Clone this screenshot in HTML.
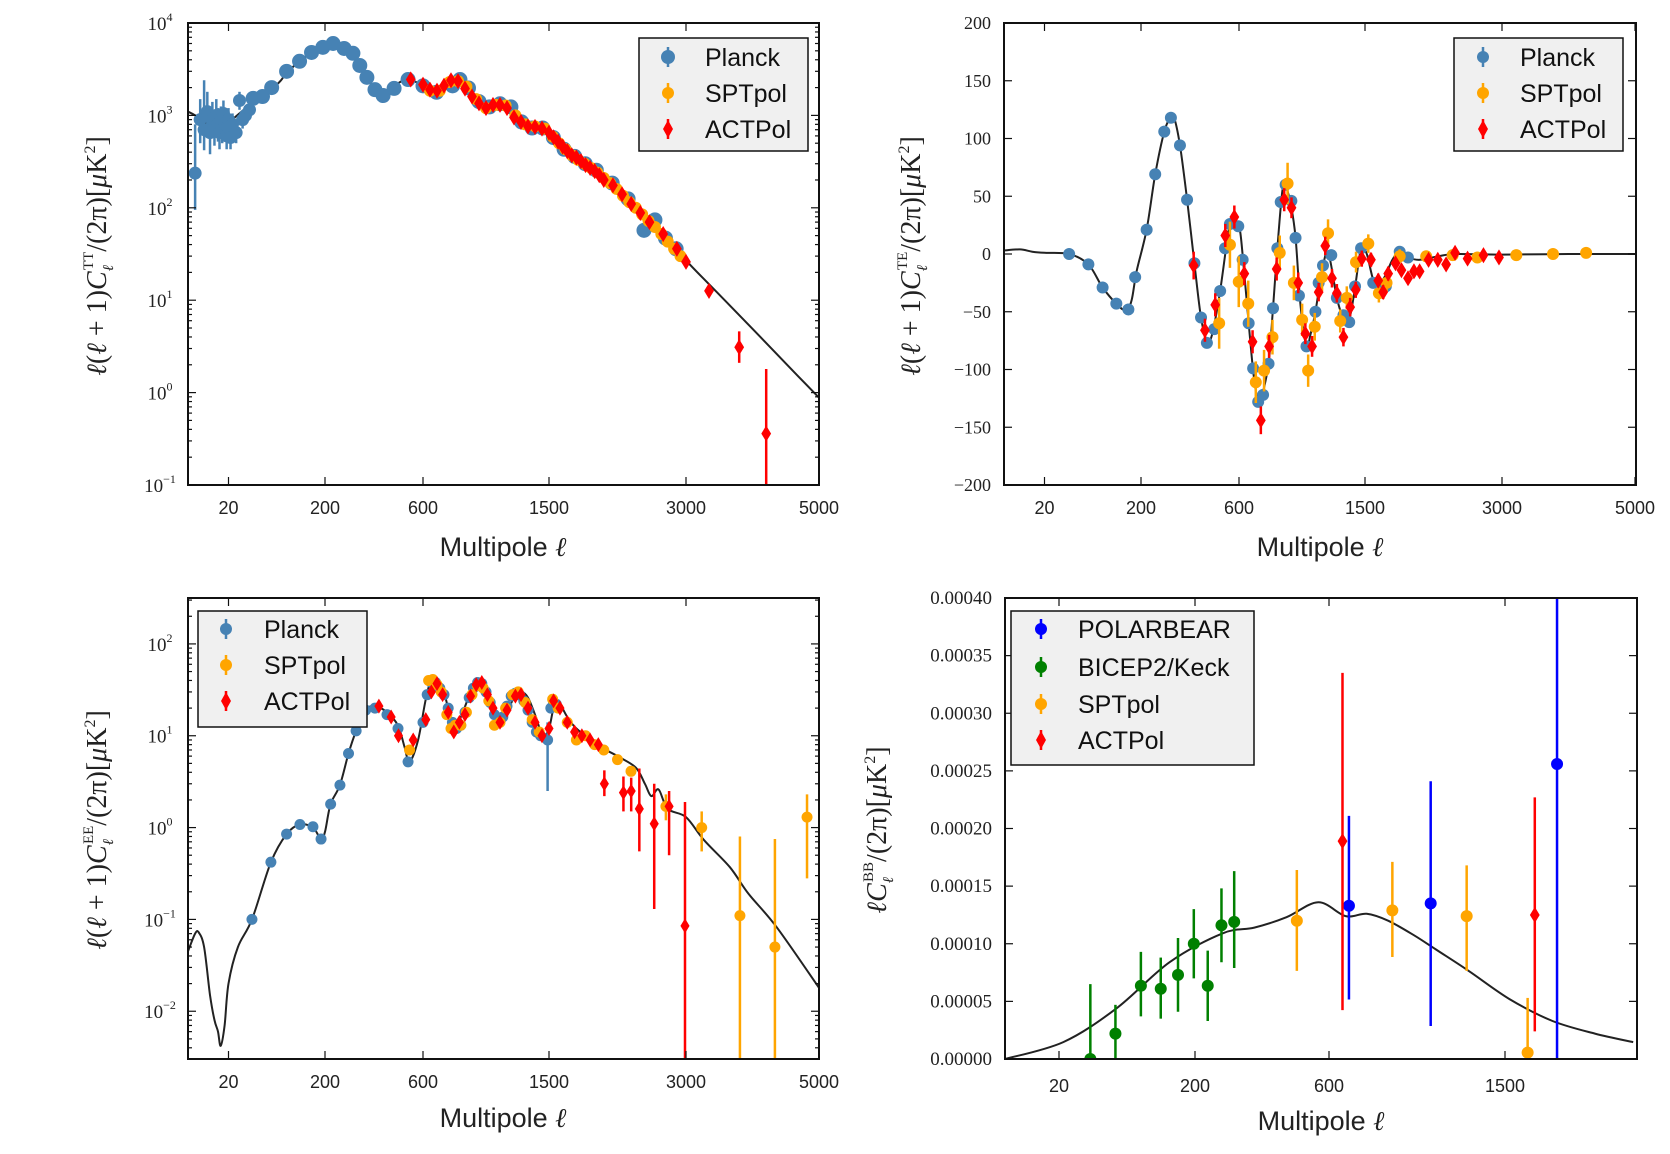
<!DOCTYPE html>
<html><head><meta charset="utf-8"><style>body{margin:0;background:#fff}svg{display:block}</style></head>
<body>
<svg id="fig" width="1670" height="1154" xmlns="http://www.w3.org/2000/svg">
<rect width="1670" height="1154" fill="#fff"/>
<defs>
<clipPath id="c-tt"><rect x="188" y="23" width="631" height="462"/></clipPath>
<clipPath id="c-te"><rect x="1004" y="23" width="632" height="462"/></clipPath>
<clipPath id="c-ee"><rect x="188" y="598" width="631" height="461"/></clipPath>
<clipPath id="c-bb"><rect x="1005" y="598" width="632" height="461"/></clipPath>
</defs>
<g id="layer"></g>
<g id="axes"></g>

<g font-family="Liberation Serif, DejaVu Serif, serif" font-size="28" fill="#222">
<text transform="translate(106,256) rotate(-90)" text-anchor="middle"><tspan font-style="italic">ℓ</tspan>(<tspan font-style="italic">ℓ</tspan> + 1)<tspan font-style="italic">C</tspan><tspan font-size="15" font-style="italic" dy="7">ℓ</tspan><tspan font-size="15" dx="-5" dy="-20">TT</tspan><tspan dy="13">/(2π)[</tspan><tspan font-style="italic">μ</tspan>K<tspan font-size="16" dy="-11">2</tspan><tspan dy="11">]</tspan></text>
<text transform="translate(920,256) rotate(-90)" text-anchor="middle"><tspan font-style="italic">ℓ</tspan>(<tspan font-style="italic">ℓ</tspan> + 1)<tspan font-style="italic">C</tspan><tspan font-size="15" font-style="italic" dy="7">ℓ</tspan><tspan font-size="15" dx="-5" dy="-20">TE</tspan><tspan dy="13">/(2π)[</tspan><tspan font-style="italic">μ</tspan>K<tspan font-size="16" dy="-11">2</tspan><tspan dy="11">]</tspan></text>
<text transform="translate(106,830) rotate(-90)" text-anchor="middle"><tspan font-style="italic">ℓ</tspan>(<tspan font-style="italic">ℓ</tspan> + 1)<tspan font-style="italic">C</tspan><tspan font-size="15" font-style="italic" dy="7">ℓ</tspan><tspan font-size="15" dx="-5" dy="-20">EE</tspan><tspan dy="13">/(2π)[</tspan><tspan font-style="italic">μ</tspan>K<tspan font-size="16" dy="-11">2</tspan><tspan dy="11">]</tspan></text>
<text transform="translate(886,830) rotate(-90)" text-anchor="middle"><tspan font-style="italic">ℓC</tspan><tspan font-size="15" font-style="italic" dy="7">ℓ</tspan><tspan font-size="15" dx="-5" dy="-20">BB</tspan><tspan dy="13">/(2π)[</tspan><tspan font-style="italic">μ</tspan>K<tspan font-size="16" dy="-11">2</tspan><tspan dy="11">]</tspan></text>
</g>
<g font-family="Liberation Sans, DejaVu Sans, sans-serif" font-size="27" fill="#222" text-anchor="middle">
<text x="503" y="556">Multipole <tspan font-family="Liberation Serif, serif" font-style="italic">ℓ</tspan></text>
<text x="1320" y="556">Multipole <tspan font-family="Liberation Serif, serif" font-style="italic">ℓ</tspan></text>
<text x="503" y="1127">Multipole <tspan font-family="Liberation Serif, serif" font-style="italic">ℓ</tspan></text>
<text x="1321" y="1130">Multipole <tspan font-family="Liberation Serif, serif" font-style="italic">ℓ</tspan></text>
</g>

<g font-family="Liberation Sans, DejaVu Sans, sans-serif" font-size="25" fill="#111">
<g>
<rect x="639" y="38" width="169" height="113" fill="#f0f0f0" stroke="#111" stroke-width="1.5"/>
<g><line x1="668" y1="47" x2="668" y2="67" stroke="#4682b4" stroke-width="2.5"/><circle cx="668" cy="57" r="7" fill="#4682b4"/><text x="705" y="66">Planck</text></g>
<g><line x1="668" y1="83" x2="668" y2="103" stroke="#ffa500" stroke-width="2.5"/><circle cx="668" cy="93" r="6" fill="#ffa500"/><text x="705" y="102">SPTpol</text></g>
<g><line x1="668" y1="119" x2="668" y2="139" stroke="#f00" stroke-width="2.5"/><polygon points="668,120 673,129 668,138 663,129" fill="#f00"/><text x="705" y="138">ACTPol</text></g>
</g>
<g>
<rect x="1454" y="38" width="169" height="113" fill="#f0f0f0" stroke="#111" stroke-width="1.5"/>
<g><line x1="1483" y1="47" x2="1483" y2="67" stroke="#4682b4" stroke-width="2.5"/><circle cx="1483" cy="57" r="6" fill="#4682b4"/><text x="1520" y="66">Planck</text></g>
<g><line x1="1483" y1="83" x2="1483" y2="103" stroke="#ffa500" stroke-width="2.5"/><circle cx="1483" cy="93" r="6" fill="#ffa500"/><text x="1520" y="102">SPTpol</text></g>
<g><line x1="1483" y1="119" x2="1483" y2="139" stroke="#f00" stroke-width="2.5"/><polygon points="1483,120 1488,129 1483,138 1478,129" fill="#f00"/><text x="1520" y="138">ACTPol</text></g>
</g>
<g>
<rect x="198" y="611" width="169" height="116" fill="#f0f0f0" stroke="#111" stroke-width="1.5"/>
<g><line x1="226" y1="619" x2="226" y2="639" stroke="#4682b4" stroke-width="2.5"/><circle cx="226" cy="629" r="6" fill="#4682b4"/><text x="264" y="638">Planck</text></g>
<g><line x1="226" y1="655" x2="226" y2="675" stroke="#ffa500" stroke-width="2.5"/><circle cx="226" cy="665" r="6" fill="#ffa500"/><text x="264" y="674">SPTpol</text></g>
<g><line x1="226" y1="691" x2="226" y2="711" stroke="#f00" stroke-width="2.5"/><polygon points="226,692 231,701 226,710 221,701" fill="#f00"/><text x="264" y="710">ACTPol</text></g>
</g>
<g>
<rect x="1011" y="611" width="243" height="154" fill="#f0f0f0" stroke="#111" stroke-width="1.5"/>
<g><line x1="1041" y1="619" x2="1041" y2="639" stroke="#00f" stroke-width="2.5"/><circle cx="1041" cy="629" r="6" fill="#00f"/><text x="1078" y="638">POLARBEAR</text></g>
<g><line x1="1041" y1="657" x2="1041" y2="677" stroke="#008000" stroke-width="2.5"/><circle cx="1041" cy="667" r="6" fill="#008000"/><text x="1078" y="676">BICEP2/Keck</text></g>
<g><line x1="1041" y1="694" x2="1041" y2="714" stroke="#ffa500" stroke-width="2.5"/><circle cx="1041" cy="704" r="6" fill="#ffa500"/><text x="1078" y="713">SPTpol</text></g>
<g><line x1="1041" y1="730" x2="1041" y2="750" stroke="#f00" stroke-width="2.5"/><polygon points="1041,731 1046,740 1041,749 1036,740" fill="#f00"/><text x="1078" y="749">ACTPol</text></g>
</g>
</g>
</svg>
<script>
// ---------------- TT data ----------------
const ttTheoryEll = [2,3,5,10,20,30,40,56,70,80,109,145,190,233,278,314,342,371,404,437,482,539,600,697,760,811,864,925,1000,1075,1150,1228,1304,1379,1455,1548,1665,1781,1897,2018,2192,2366,2540,2700,2892,3000,3346,3600,4000,4500,5000];
const ttTheoryVal = [1100,1000,850,800,850,1190,1400,1900,2400,2900,3850,4800,5500,5900,5300,4600,3500,2600,1900,1700,2100,2450,2100,1800,1950,2200,2400,2000,1450,1250,1320,1250,880,750,740,580,440,360,300,255,185,125,82,60,38,27,14.9,9.7,4.9,2.07,0.88];
const ttPlanckLowEll = [3,4,5,6,7,8,9,10,11,12,13,14,15,16,17,18,19,20,21,22,24,26,28,30,33];
const ttPlanckLowVal = [237,900,700,1100,650,900,750,1000,800,650,900,700,1050,850,700,600,750,900,577,800,650,1450,900,1000,1150];
const ttPlanckLowLo = [95,500,420,700,380,600,470,650,520,430,650,500,780,620,520,430,570,700,430,620,500,1150,720,820,950];
const ttPlanckLowHi = [800,1500,2400,1800,1050,1400,1150,1500,1200,950,1250,1000,1450,1150,950,850,1000,1200,780,1050,850,1800,1120,1220,1400];
const ttPlanckEll = [36,45,56,80,109,145,190,233,278,314,342,371,404,437,482,539,600,697,811,864,925,1000,1075,1150,1228,1304,1379,1455,1548,1665,1781,1897,2018,2192,2366,2540,2660,2775,2892];
const ttPlanckVal = [1530,1600,2000,3000,3850,4800,5450,6000,5300,4700,3470,2580,1900,1640,1960,2445,2090,1780,2090,2445,1980,1410,1235,1335,1235,850,730,730,575,430,360,300,255,185,125,57,74,47,36];
const ttSptEll = [650,720,790,850,910,980,1050,1120,1190,1260,1330,1400,1470,1540,1610,1680,1750,1820,1890,1960,2030,2100,2170,2240,2310,2380,2450,2520,2590,2660,2730,2800,2870,2940];
const ttSptVal = [1850,1850,2300,2350,2050,1500,1200,1300,1280,1000,800,760,720,590,500,430,370,330,300,270,240,210,185,160,135,115,100,85,72,62,52,43,36,30];
const ttActEll = [550,600,650,700,750,800,850,900,950,1000,1050,1100,1150,1200,1250,1300,1350,1400,1450,1500,1550,1600,1650,1700,1750,1800,1850,1900,1950,2000,2050,2100,2200,2300,2400,2500,2600,2750,2900,3000];
const ttActVal = [2450,2150,1900,1850,2100,2400,2350,1950,1600,1350,1200,1300,1300,1200,950,850,760,750,720,650,580,520,460,410,370,350,320,290,270,250,225,200,175,140,110,88,70,52,36,26];
const ttActTailEll = [3346,3800,4206];
const ttActTailVal = [12.6,3.1,0.36];
const ttActTailLo = [11,2.1,0.05];
const ttActTailHi = [14.5,4.6,1.8];

// ---------------- TE data ----------------
const teTheoryEll = [2,5,10,20,36,57,80,111,140,160,180,223,258,295,320,335,359,388,418,445,469,490,523,563,590,610,640,700,740,760,811,843,874,910,935,974,1004,1040,1082,1110,1146,1200,1240,1299,1346,1390,1430,1472,1520,1590,1660,1728,1800,1880,1970,2100,2300,2500,3000,4000,5000];
const teTheoryVal = [3,4,2,1,0,-9,-29,-43,-49,-40,-15,21,69,106,118,118,94,47,-8,-55,-75,-70,-32,26,28,18,-20,-100,-130,-125,-95,-47,5,55,58,40,14,-45,-80,-70,-50,-10,0,-38,-55,-55,-28,5,0,-22,-25,-18,-5,2,-3,-5,-2,0,-0.5,0,0];
const tePlanckEll = [36,57,80,111,148,174,223,258,295,322,359,388,418,445,469,499,523,543,563,597,626,669,701,737,772,811,843,874,898,933,974,1004,1028,1082,1146,1169,1200,1259,1299,1346,1387,1429,1472,1590,1728,1880,1970];
const tePlanckVal = [0,-9,-29,-43,-48,-20,21,69,106,118,94,47,-8,-55,-77,-65,-32,5,26,24,-5,-60,-99,-128,-122,-95,-47,5,45,60,46,14,-36,-80,-50,-25,-10,-1,-38,-53,-59,-28,5,-25,-28,2,-3];
const teSptEll = [519,563,599,666,720,779,839,891,947,992,1051,1094,1141,1193,1236,1323,1370,1436,1536,1652,1736,1880,2170,2460,2730,3215,3767,4265];
const teSptVal = [-60,8,-24,-43,-111,-101,-72,1,61,-25,-57,-101,-63,-20,18,-58,-38,-7,9,-34,-25,-2,-2,-1,-3,-1,0,1];
const teSptErr = [22,20,22,20,18,18,15,15,18,15,14,14,12,12,12,10,10,9,8,8,8,6,4,3,3,2,2,2];
const teActEll = [415,461,503,544,581,638,697,756,815,869,923,975,1023,1074,1122,1169,1216,1264,1299,1346,1394,1434,1477,1565,1645,1699,1754,1834,1899,1971,2036,2098,2196,2297,2388,2486,2623,2797,2967];
const teActVal = [-10,-66,-44,16,32,-17,-76,-144,-80,-13,47,40,-25,-69,-80,-33,7,-21,-34,-72,-46,-31,-4,-5,-23,-33,-17,-8,-14,-21,-15,-15,-5,-5,-9,1,-4,-1,-3];
const teActErr = [12,10,10,10,10,10,10,12,10,10,10,9,9,9,9,8,8,8,8,8,8,7,7,6,6,6,6,5,5,5,5,5,4,4,4,4,3,3,3];

// ---------------- EE data ----------------
const eeTheoryEll = [2,3,3.7,5,7,9,11,12.8,16,20,25,35,55,80,110,150,182,200,223,261,296,327,366,404,453,498,525,545,580,620,665,720,760,818,870,920,960,1007,1060,1100,1146,1200,1250,1300,1350,1400,1456,1500,1550,1606,1700,1800,2020,2250,2450,2550,2620,2700,2800,3000,3270,3660,3940,4360,5000];
const eeTheoryVal = [0.045,0.07,0.072,0.05,0.015,0.008,0.006,0.0042,0.007,0.02,0.05,0.1,0.42,0.85,1.08,1.0,0.75,0.9,1.8,2.9,6.4,11.3,19,21,18,12.9,7.5,5.2,9,25,42,34,26,12,16,25,35,40,30,22,14,18,26,30,26,17,10,12,20,23,16,12,8,6,4.5,3,2.2,2.6,1.6,1.3,0.73,0.37,0.19,0.083,0.018];
const eePlanckEll = [35,55,80,110,150,182,223,261,296,327,366,404,453,498,539,600,630,660,690,720,750,780,810,840,870,900,930,960,990,1020,1050,1080,1110,1140,1170,1200,1230,1260,1290,1320,1350,1380,1410,1440,1520,1550,1580];
const eePlanckVal = [0.1,0.42,0.85,1.08,1.02,0.75,1.8,2.9,6.4,11.3,19,20,17,12,5.2,14,28,38,38,33,28,20,14,12,13,18,26,33,38,37,30,23,17,15,16,21,27,29,28,24,19,14,11,10,20,23,22];
const eePlanckOutEll = [1490];
const eePlanckOutVal = [9];
const eePlanckOutLo = [2.5];
const eePlanckOutHi = [14];
const eeSptEll = [545,640,670,700,730,770,800,830,870,910,950,990,1030,1070,1110,1150,1190,1240,1280,1330,1380,1430,1540,1600,1700,1800,1900,2000,2100,2250,2398];
const eeSptVal = [7,40,41,36,30,17,12,13,13,18,28,35,33,24,13,14,20,28,30,23,15,11,25,20,14,9,10,8,7,5.5,4.1];
const eeSptTailEll = [2780,3236,3811,4337,4820];
const eeSptTailVal = [1.7,1.0,0.11,0.05,1.3];
const eeSptTailLo = [1.2,0.55,0.001,0.001,0.28];
const eeSptTailHi = [2.3,1.5,0.8,0.75,2.3];
const eeActEll = [350,420,470,500,560,620,660,700,740,780,820,860,900,940,980,1020,1060,1100,1150,1200,1260,1300,1350,1400,1450,1500,1550,1620,1700,1780,1860,1950,2040];
const eeActVal = [20,21,16,10,9,15,30,37,28,18,11,14,17,27,36,38,28,20,14,19,27,28,20,14,10,12,24,20,14,11,10,9,8];
const eeActTailEll = [2106,2315,2400,2489,2652,2815,2989];
const eeActTailVal = [3.0,2.4,2.5,1.6,1.1,1.7,0.085];
const eeActTailLo = [2.2,1.5,1.5,0.55,0.13,0.5,0.001];
const eeActTailHi = [4.2,3.6,3.5,4.4,3.0,2.5,1.9];

// ---------------- BB data ----------------
const bbTheoryEll = [2,21.5,53,130,282,377,473,568,685,793,902,1038,1147,1310,1524,1752,1977,2180];
const bbTheoryVal = [0,0.0000147,0.000044,0.000084,0.000109,0.000114,0.000123,0.000136,0.000124,0.000126,0.000120,0.000107,0.000095,0.000077,0.000052,0.000033,0.000022,0.0000147];
const bbBicepEll = [34,52,80,112,150,196,238,279,317];
const bbBicepVal = [0,0.000022,0.0000636,0.000061,0.000073,0.0001,0.0000636,0.000116,0.000119];
const bbBicepLo = [0,0,0.000037,0.000035,0.000041,0.000070,0.000033,0.000084,0.000079];
const bbBicepHi = [0.000065,0.000047,0.000093,0.000088,0.000105,0.00013,0.000094,0.000148,0.000163];
const bbSptEll = [504,924,1304,1620];
const bbSptVal = [0.00012,0.000129,0.000124,0.0000055];
const bbSptLo = [0.0000765,0.0000885,0.0000765,0];
const bbSptHi = [0.000164,0.000171,0.000168,0.000053];
const bbPbEll = [702,1120,1776];
const bbPbVal = [0.000133,0.000135,0.000256];
const bbPbLo = [0.0000516,0.0000286,0];
const bbPbHi = [0.000211,0.000241,0.0004];
const bbActEll = [669,1658];
const bbActVal = [0.000189,0.000125];
const bbActLo = [0.0000424,0.000024];
const bbActHi = [0.000335,0.000227];

// axis tick labels
const xTickLabels = [20,200,600,1500,3000,5000];
const bbXTickLabels = [20,200,600,1500];
const teYTicks = [-200,-150,-100,-50,0,50,100,150,200];
const bbYTicks = [0,0.00005,0.0001,0.00015,0.0002,0.00025,0.0003,0.00035,0.0004];

// ---------------- rendering ----------------
const NS = 'http://www.w3.org/2000/svg';
const layer = document.getElementById('layer');
const axes = document.getElementById('axes');
function mk(tag, parent, attrs) {
  const e = document.createElementNS(NS, tag);
  for (const k in attrs) e.setAttribute(k, attrs[k]);
  parent.appendChild(e);
  return e;
}
const P = {
  tt: {x:188, y:23, w:631, h:462},
  te: {x:1004, y:23, w:632, h:462},
  ee: {x:188, y:598, w:631, h:461},
  bb: {x:1005, y:598, w:632, h:461}
};
function xMap(p, anch, px) {
  return function(l) {
    let i = 0;
    while (i < anch.length - 2 && l > anch[i+1]) i++;
    const a = anch[i], b = anch[i+1];
    const t = b <= 200 ? Math.log(Math.max(l,0.5)/a)/Math.log(b/a) : (l - a)/(b - a);
    return p.x + px[i] + t*(px[i+1] - px[i]);
  };
}
function yLog(p, lo, hi) { return v => p.y + (hi - Math.log10(Math.max(v, 1e-9)))/(hi - lo)*p.h; }
function yLin(p, lo, hi) { return v => p.y + (hi - v)/(hi - lo)*p.h; }

const mainAnch = [2,20,200,600,1500,3000,5000], mainPx = [0,40.5,137,235,361,498,631];
const bbAnch = [2,20,200,600,1500,2200], bbPx = [0,54,190,324,500,632];
const X = { tt: xMap(P.tt, mainAnch, mainPx), te: xMap(P.te, mainAnch, mainPx), ee: xMap(P.ee, mainAnch, mainPx), bb: xMap(P.bb, bbAnch, bbPx) };
const Y = { tt: yLog(P.tt, -1, 4), te: yLin(P.te, -200, 200), ee: yLog(P.ee, -2.52, 2.5), bb: yLin(P.bb, 0, 0.0004) };

function smooth(pts) {
  let d = 'M' + pts[0][0].toFixed(1) + ',' + pts[0][1].toFixed(1);
  for (let i = 0; i < pts.length - 1; i++) {
    const p0 = pts[i-1] || pts[i], p1 = pts[i], p2 = pts[i+1], p3 = pts[i+2] || pts[i+1];
    const c1 = [p1[0] + (p2[0]-p0[0])/6, p1[1] + (p2[1]-p0[1])/6];
    const c2 = [p2[0] - (p3[0]-p1[0])/6, p2[1] - (p3[1]-p1[1])/6];
    d += 'C' + c1[0].toFixed(1) + ',' + c1[1].toFixed(1) + ' ' + c2[0].toFixed(1) + ',' + c2[1].toFixed(1) + ' ' + p2[0].toFixed(1) + ',' + p2[1].toFixed(1);
  }
  return d;
}
function drawLine(g, ells, vals, xs, ys, name) {
  const pts = ells.map((l, i) => [xs(l), ys(vals[i])]);
  const e = mk('path', g, {d: smooth(pts), fill: 'none', stroke: '#222', 'stroke-width': 2});
  
  
}
function drawErr(g, ells, lo, hi, xs, ys, color, name) {
  ells.forEach((l, i) => {
    const e = mk('line', g, {x1: xs(l), x2: xs(l), y1: ys(lo[i]), y2: ys(hi[i]), stroke: color, 'stroke-width': 2.5});
    
    
  });
}
function drawSymErr(g, ells, vals, err, xs, ys, color, name) {
  ells.forEach((l, i) => {
    const e = mk('line', g, {x1: xs(l), x2: xs(l), y1: ys(vals[i]-err[i]), y2: ys(vals[i]+err[i]), stroke: color, 'stroke-width': 2.5});
    
    
  });
}
function drawPts(g, ells, vals, xs, ys, shape, color, size, name) {
  ells.forEach((l, i) => {
    const cx = xs(l), cy = ys(vals[i]);
    let e;
    if (shape === 'circle') e = mk('circle', g, {cx: cx, cy: cy, r: size, fill: color});
    else {
      const w = size*0.7, h = size*1.15;
      e = mk('polygon', g, {points: `${cx},${cy-h} ${cx+w},${cy} ${cx},${cy+h} ${cx-w},${cy}`, fill: color});
    }
    
    
  });
}
function panelGroup(key, name) {
  const g = mk('g', layer, {'clip-path': `url(#c-${key})`});
  
  
  return g;
}
const BLUE = '#4682b4', ORANGE = '#ffa500', RED = '#ff0000';

// TT
let g = panelGroup('tt', 'tt-plot-area');
drawLine(g, ttTheoryEll, ttTheoryVal, X.tt, Y.tt, 'tt-theory-curve');
drawErr(g, ttPlanckLowEll, ttPlanckLowLo, ttPlanckLowHi, X.tt, Y.tt, BLUE, 'tt-planck-errorbar');
drawPts(g, ttPlanckLowEll, ttPlanckLowVal, X.tt, Y.tt, 'circle', BLUE, 6.5, 'tt-planck-point');
drawPts(g, ttPlanckEll, ttPlanckVal, X.tt, Y.tt, 'circle', BLUE, 7.5, 'tt-planck-point');
drawPts(g, ttSptEll, ttSptVal, X.tt, Y.tt, 'circle', ORANGE, 6, 'tt-sptpol-point');
drawPts(g, ttActEll, ttActVal, X.tt, Y.tt, 'diamond', RED, 7, 'tt-actpol-point');
drawErr(g, ttActTailEll, ttActTailLo, ttActTailHi, X.tt, Y.tt, RED, 'tt-actpol-errorbar');
drawPts(g, ttActTailEll, ttActTailVal, X.tt, Y.tt, 'diamond', RED, 7, 'tt-actpol-point');

// TE
g = panelGroup('te', 'te-plot-area');
drawLine(g, teTheoryEll, teTheoryVal, X.te, Y.te, 'te-theory-curve');
drawPts(g, tePlanckEll, tePlanckVal, X.te, Y.te, 'circle', BLUE, 6, 'te-planck-point');
drawSymErr(g, teSptEll, teSptVal, teSptErr, X.te, Y.te, ORANGE, 'te-sptpol-errorbar');
drawPts(g, teSptEll, teSptVal, X.te, Y.te, 'circle', ORANGE, 6, 'te-sptpol-point');
drawSymErr(g, teActEll, teActVal, teActErr, X.te, Y.te, RED, 'te-actpol-errorbar');
drawPts(g, teActEll, teActVal, X.te, Y.te, 'diamond', RED, 7, 'te-actpol-point');

// EE
g = panelGroup('ee', 'ee-plot-area');
drawLine(g, eeTheoryEll, eeTheoryVal, X.ee, Y.ee, 'ee-theory-curve');
drawPts(g, eePlanckEll, eePlanckVal, X.ee, Y.ee, 'circle', BLUE, 5.5, 'ee-planck-point');
drawErr(g, eePlanckOutEll, eePlanckOutLo, eePlanckOutHi, X.ee, Y.ee, BLUE, 'ee-planck-errorbar');
drawPts(g, eePlanckOutEll, eePlanckOutVal, X.ee, Y.ee, 'circle', BLUE, 5.5, 'ee-planck-point');
drawPts(g, eeSptEll, eeSptVal, X.ee, Y.ee, 'circle', ORANGE, 5.5, 'ee-sptpol-point');
drawErr(g, eeSptTailEll, eeSptTailLo, eeSptTailHi, X.ee, Y.ee, ORANGE, 'ee-sptpol-errorbar');
drawPts(g, eeSptTailEll, eeSptTailVal, X.ee, Y.ee, 'circle', ORANGE, 5.5, 'ee-sptpol-point');
drawPts(g, eeActEll, eeActVal, X.ee, Y.ee, 'diamond', RED, 6.5, 'ee-actpol-point');
drawErr(g, eeActTailEll, eeActTailLo, eeActTailHi, X.ee, Y.ee, RED, 'ee-actpol-errorbar');
drawPts(g, eeActTailEll, eeActTailVal, X.ee, Y.ee, 'diamond', RED, 6.5, 'ee-actpol-point');

// BB
g = panelGroup('bb', 'bb-plot-area');
drawLine(g, bbTheoryEll, bbTheoryVal, X.bb, Y.bb, 'bb-theory-curve');
drawErr(g, bbBicepEll, bbBicepLo, bbBicepHi, X.bb, Y.bb, '#008000', 'bb-bicep-errorbar');
drawPts(g, bbBicepEll, bbBicepVal, X.bb, Y.bb, 'circle', '#008000', 6, 'bb-bicep-point');
drawErr(g, bbSptEll, bbSptLo, bbSptHi, X.bb, Y.bb, ORANGE, 'bb-sptpol-errorbar');
drawPts(g, bbSptEll, bbSptVal, X.bb, Y.bb, 'circle', ORANGE, 6, 'bb-sptpol-point');
drawErr(g, bbPbEll, bbPbLo, bbPbHi, X.bb, Y.bb, '#0000ff', 'bb-polarbear-errorbar');
drawPts(g, bbPbEll, bbPbVal, X.bb, Y.bb, 'circle', '#0000ff', 6, 'bb-polarbear-point');
drawErr(g, bbActEll, bbActLo, bbActHi, X.bb, Y.bb, RED, 'bb-actpol-errorbar');
drawPts(g, bbActEll, bbActVal, X.bb, Y.bb, 'diamond', RED, 7, 'bb-actpol-point');

// ---------------- axes ----------------
function tick(x1, y1, x2, y2) {
  const e = mk('line', axes, {x1: x1, y1: y1, x2: x2, y2: y2, stroke: '#111', 'stroke-width': 1.2});
  
  
}
function frame(p, name) {
  const e = mk('rect', axes, {x: p.x, y: p.y, width: p.w, height: p.h, fill: 'none', stroke: '#111', 'stroke-width': 2});
  
  
}
function xTicks(p, xs, labels, dyLab, key) {
  labels.forEach(v => {
    const x = xs(v);
    tick(x, p.y + p.h, x, p.y + p.h - 8);
    tick(x, p.y, x, p.y + 8);
    const t = mk('text', axes, {x: x, y: p.y + p.h + dyLab, 'text-anchor': 'middle', 'font-family': 'Liberation Sans, DejaVu Sans, sans-serif', 'font-size': 18, fill: '#222'});
    t.textContent = String(v);
    
    
  });
}
function logYTicks(p, ys, lo, hi, key) {
  for (let d = Math.floor(lo); d <= Math.ceil(hi); d++) {
    for (let m = 1; m <= 9; m++) {
      const v = m*Math.pow(10, d), y = ys(v);
      if (y < p.y - 0.5 || y > p.y + p.h + 0.5) continue;
      const len = m === 1 ? 8 : 4;
      tick(p.x, y, p.x + len, y);
      tick(p.x + p.w, y, p.x + p.w - len, y);
      if (m === 1) {
        const t = mk('text', axes, {x: p.x - 28, y: y + 7, 'text-anchor': 'middle', 'font-family': 'Liberation Serif, DejaVu Serif, serif', 'font-size': 19, fill: '#222'});
        
        
        t.appendChild(document.createTextNode('10'));
        const s = mk('tspan', t, {'font-size': 12, dy: -9});
        s.textContent = d < 0 ? '−' + (-d) : String(d);
      }
    }
  }
}
function linYTicks(p, ys, vals, fmt, key, fs) {
  vals.forEach(v => {
    const y = ys(v);
    tick(p.x, y, p.x + 8, y);
    tick(p.x + p.w, y, p.x + p.w - 8, y);
    const t = mk('text', axes, {x: p.x - 13, y: y + 6, 'text-anchor': 'end', 'font-family': 'Liberation Serif, DejaVu Serif, serif', 'font-size': fs, fill: '#222'});
    t.textContent = fmt(v);
    
    
  });
}
frame(P.tt, 'tt-axes-frame'); frame(P.te, 'te-axes-frame'); frame(P.ee, 'ee-axes-frame'); frame(P.bb, 'bb-axes-frame');
xTicks(P.tt, X.tt, xTickLabels, 29, 'tt');
xTicks(P.te, X.te, xTickLabels, 29, 'te');
xTicks(P.ee, X.ee, xTickLabels, 29, 'ee');
xTicks(P.bb, X.bb, bbXTickLabels, 33, 'bb');
logYTicks(P.tt, Y.tt, -1, 4, 'tt');
logYTicks(P.ee, Y.ee, -2.52, 2.5, 'ee');
linYTicks(P.te, Y.te, teYTicks, v => v < 0 ? '−' + (-v) : String(v), 'te', 18);
linYTicks(P.bb, Y.bb, bbYTicks, v => v.toFixed(5), 'bb', 19);
</script>
</body></html>
